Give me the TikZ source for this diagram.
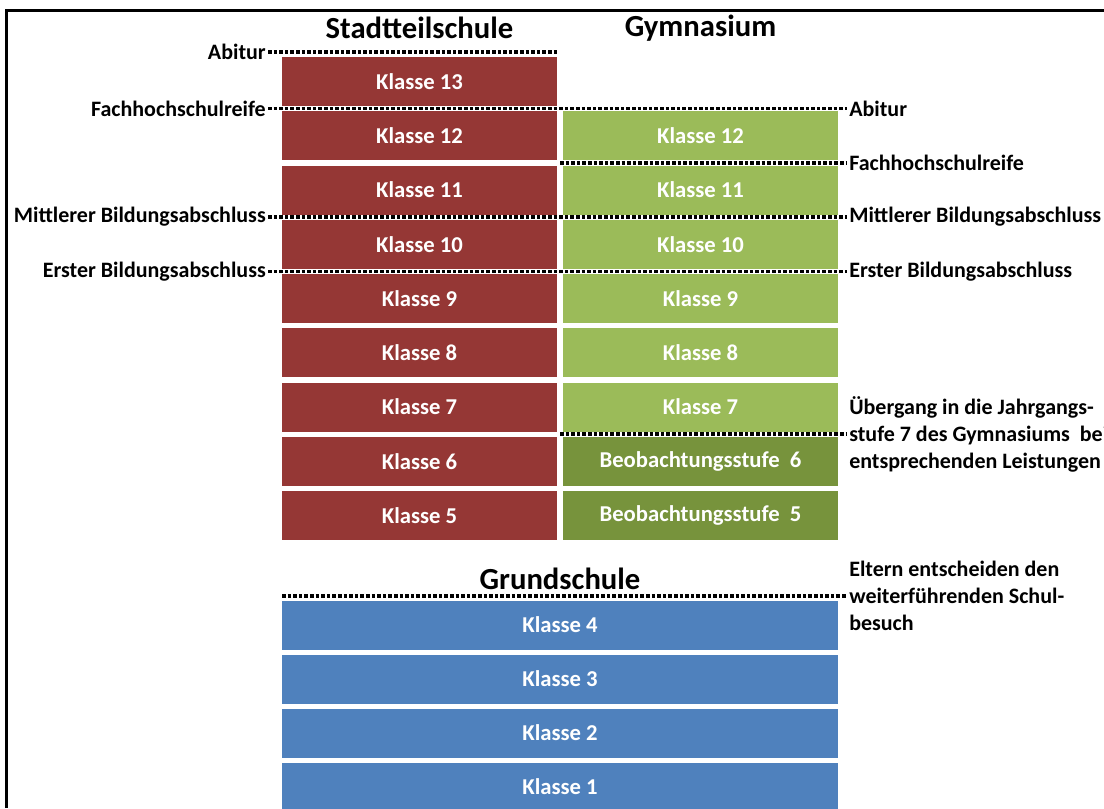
\documentclass[tikz,border=0pt]{standalone}
\usepackage{fontspec}
\setmainfont{Carlito}

\definecolor{stsred}{HTML}{953735}
\definecolor{gymgreen}{HTML}{9BBB59}
\definecolor{beogreen}{HTML}{77933C}
\definecolor{gsblue}{HTML}{4F81BD}

\tikzset{
  klasse/.style={minimum width=206.25pt, minimum height=36.75pt, inner sep=0pt,
    text=white, font=\bfseries\fontsize{17}{20}\selectfont},
  stsbox/.style={klasse, fill=stsred},
  gymbox/.style={klasse, fill=gymgreen},
  beobox/.style={klasse, fill=beogreen},
  gsbox/.style={klasse, fill=gsblue, minimum width=417pt},
  abschluss/.style={inner sep=1.5pt, font=\bfseries\fontsize{16.5}{20.25}\selectfont, align=left},
  schulform/.style={font=\bfseries\fontsize{23}{27}\selectfont},
  dots/.style={line width=2.3pt, dash pattern=on 2.7pt off 1.5pt}
}

\begin{document}
\begin{tikzpicture}[x=0.75pt, y=-0.75pt]
    \useasboundingbox (0,0) rectangle (1104,808);
    \draw [line width=2.25pt] (6.5,808) -- (6.5,10.5) -- (1104,10.5);

    % Stadtteilschule
    \node [schulform] (stsHead) at (419.5, 28) {Stadtteilschule};
    \node [stsbox] (s13) at (419.5, 81.5) {Klasse 13};
    \node [stsbox] (s12) at (419.5, 135.75) {Klasse 12};
    \node [stsbox] (s11) at (419.5, 190) {Klasse 11};
    \node [stsbox] (s10) at (419.5, 244.25) {Klasse 10};
    \node [stsbox] (s9) at (419.5, 298.5) {Klasse 9};
    \node [stsbox] (s8) at (419.5, 352.75) {Klasse 8};
    \node [stsbox] (s7) at (419.5, 407) {Klasse 7};
    \node [stsbox] (s6) at (419.5, 461.25) {Klasse 6};
    \node [stsbox] (s5) at (419.5, 515.5) {Klasse 5};

    % Gymnasium
    \node [schulform] (gymHead) at (700.5, 28) {Gymnasium};
    \node [gymbox] (g12) at (700.5, 135.75) {Klasse 12};
    \node [gymbox] (g11) at (700.5, 190) {Klasse 11};
    \node [gymbox] (g10) at (700.5, 244.25) {Klasse 10};
    \node [gymbox] (g9) at (700.5, 298.5) {Klasse 9};
    \node [gymbox] (g8) at (700.5, 352.75) {Klasse 8};
    \node [gymbox] (g7) at (700.5, 407) {Klasse 7};
    \node [beobox] (g6) at (700.5, 461.25) {Beobachtungsstufe~ 6};
    \node [beobox] (g5) at (700.5, 515.5) {Beobachtungsstufe~ 5};

    % Grundschule
    \node [schulform] (gsHead) at (560, 579) {Grundschule};
    \node [gsbox] (k4) at (560, 625) {Klasse 4};
    \node [gsbox] (k3) at (560, 679) {Klasse 3};
    \node [gsbox] (k2) at (560, 733) {Klasse 2};
    \node [gsbox] (k1) at (560, 787) {Klasse 1};

    % Abschluesse links
    \node [abschluss, anchor=east] (abiL) at (268, 52) {Abitur};
    \node [abschluss, anchor=east] (fhrL) at (268, 108.5) {Fachhochschulreife};
    \node [abschluss, anchor=east] (mbaL) at (268, 217) {Mittlerer Bildungsabschluss};
    \node [abschluss, anchor=east] (ebaL) at (268, 271.5) {Erster Bildungsabschluss};

    % Abschluesse rechts
    \node [abschluss, anchor=west] (abiR) at (847, 108.5) {Abitur};
    \node [abschluss, anchor=west] (fhrR) at (847, 163) {Fachhochschulreife};
    \node [abschluss, anchor=west] (mbaR) at (847, 217) {Mittlerer Bildungsabschluss};
    \node [abschluss, anchor=west] (ebaR) at (847, 271.5) {Erster Bildungsabschluss};
    \node [abschluss, anchor=west] (uebR) at (847, 434) {\"Ubergang in die Jahrgangs-\\stufe 7 des Gymnasiums~ bei\\entsprechenden Leistungen};
    \node [abschluss, anchor=west] (elternR) at (847, 596) {Eltern entscheiden den\\weiterf\"uhrenden Schul-\\besuch};

    \coordinate (fhrStart) at (560, 163);
    \coordinate (uebStart) at (560, 434);
    \coordinate (gsStart) at (282, 596);

    \draw [dots] (abiL) -- (abiL -| s13.east);
    \draw [dots] (fhrL) -- (abiR);
    \draw [dots] (mbaL) -- (mbaR);
    \draw [dots] (ebaL) -- (ebaR);
    \draw [dots] (fhrStart) -- (fhrR);
    \draw [dots] (uebStart) -- (uebStart -| uebR.west);
    \draw [dots] (gsStart) -- (gsStart -| elternR.west);
\end{tikzpicture}
\end{document}
